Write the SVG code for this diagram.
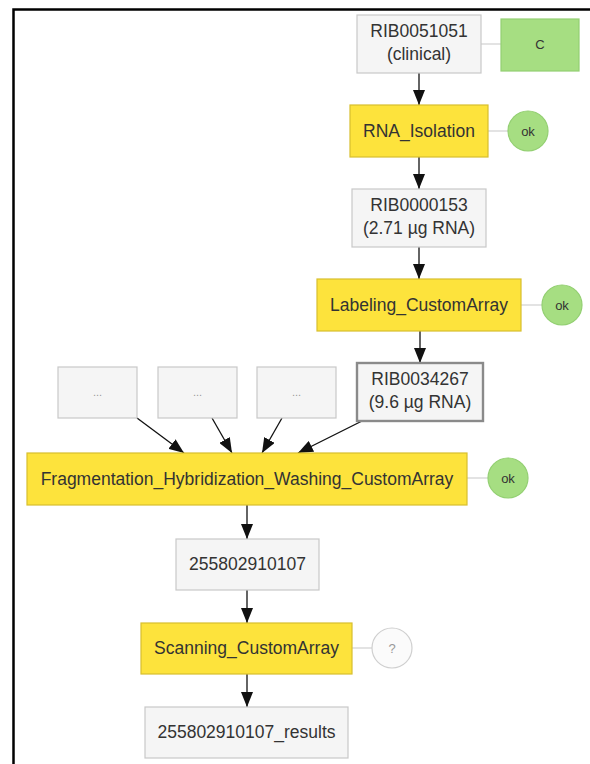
<svg xmlns="http://www.w3.org/2000/svg" width="590" height="764" viewBox="0 0 590 764">
  <style>
    .data { fill: #f5f5f5; stroke: #c8c8c8; stroke-width: 1.2; }
    .data-hl { fill: #f5f5f5; stroke: #8a8a8a; stroke-width: 2.4; }
    .proc { fill: #fde33c; stroke: #d8bf2e; stroke-width: 1.2; }
    .tag { fill: #a6de82; stroke: #93cf72; stroke-width: 1.2; }
    .unk { fill: #fbfbfb; stroke: #cfcfcf; stroke-width: 1.2; }
    .lbl { font-family: "Liberation Sans", Arial, sans-serif; font-size: 17.5px; fill: #333; text-anchor: middle; }
    .small { font-family: "Liberation Sans", Arial, sans-serif; font-size: 13px; fill: #333; text-anchor: middle; }
    .dots { font-family: "Liberation Sans", Arial, sans-serif; font-size: 11px; fill: #999; text-anchor: middle; }
    .edge { stroke: #111; stroke-width: 1.3; fill: none; marker-end: url(#arrow); }
    .link { stroke: #d0d0d0; stroke-width: 1.2; fill: none; }
  </style>
  <defs>
    <marker id="arrow" markerUnits="userSpaceOnUse" markerWidth="16" markerHeight="12" viewBox="0 0 16 12" refX="15" refY="6" orient="auto">
      <path d="M0,0 L15,6 L0,12 Z" fill="#111"/>
    </marker>
  </defs>

  <rect width="590" height="764" fill="#fff"/>
  <!-- frame -->
  <path d="M13.5,764 V9.5 H590" fill="none" stroke="#000" stroke-width="2.5"/>

  <g id="connectors">
    <line class="edge" x1="419" y1="73" x2="419" y2="105"/>
    <line class="edge" x1="419" y1="157" x2="419" y2="189"/>
    <line class="edge" x1="419" y1="247" x2="419" y2="279"/>
    <line class="edge" x1="420" y1="331" x2="420" y2="363"/>
    <line class="edge" x1="137" y1="418" x2="184" y2="453"/>
    <line class="edge" x1="212" y1="418" x2="232" y2="453"/>
    <line class="edge" x1="282" y1="418" x2="262" y2="453"/>
    <line class="edge" x1="362" y1="421" x2="298" y2="453"/>
    <line class="edge" x1="247" y1="505" x2="247" y2="539"/>
    <line class="edge" x1="247" y1="590" x2="247" y2="623"/>
    <line class="edge" x1="247" y1="674" x2="247" y2="707"/>
    <line class="link" x1="481" y1="44" x2="501" y2="44"/>
    <line class="link" x1="488" y1="131" x2="508" y2="131"/>
    <line class="link" x1="521" y1="305" x2="542" y2="305"/>
    <line class="link" x1="467" y1="478" x2="488" y2="478"/>
    <line class="link" x1="352" y1="648" x2="372" y2="648"/>
  </g>

  <g id="rib0051051">
    <rect class="data" x="357" y="15" width="124" height="58"/>
    <text class="lbl" x="419" y="37">RIB0051051</text>
    <text class="lbl" x="419" y="60">(clinical)</text>
  </g>
  <g id="tag-c">
    <rect class="tag" x="501" y="19" width="78" height="52"/>
    <text class="small" x="540" y="49">C</text>
  </g>

  <g id="rna-isolation">
    <rect class="proc" x="350" y="105" width="138" height="52"/>
    <text class="lbl" x="419" y="137">RNA_Isolation</text>
  </g>
  <g id="status-rna-isolation">
    <circle class="tag" cx="528" cy="131" r="20"/>
    <text class="small" x="528" y="135.5">ok</text>
  </g>

  <g id="rib0000153">
    <rect class="data" x="352" y="189" width="134" height="58"/>
    <text class="lbl" x="419" y="211">RIB0000153</text>
    <text class="lbl" x="419" y="234">(2.71 µg RNA)</text>
  </g>

  <g id="labeling">
    <rect class="proc" x="317" y="279" width="204" height="52"/>
    <text class="lbl" x="419" y="311">Labeling_CustomArray</text>
  </g>
  <g id="status-labeling">
    <circle class="tag" cx="562" cy="305" r="20"/>
    <text class="small" x="562" y="309.5">ok</text>
  </g>

  <g id="input-1">
    <rect class="data" x="58" y="367" width="79" height="51"/>
    <text class="dots" x="97.5" y="396">...</text>
  </g>
  <g id="input-2">
    <rect class="data" x="158" y="367" width="79" height="51"/>
    <text class="dots" x="197.5" y="396">...</text>
  </g>
  <g id="input-3">
    <rect class="data" x="257" y="367" width="79" height="51"/>
    <text class="dots" x="296.5" y="396">...</text>
  </g>
  <g id="rib0034267">
    <rect class="data-hl" x="357" y="363" width="126" height="58"/>
    <text class="lbl" x="420" y="385">RIB0034267</text>
    <text class="lbl" x="420" y="408">(9.6 µg RNA)</text>
  </g>

  <g id="hybridization">
    <rect class="proc" x="27" y="453" width="440" height="52"/>
    <text class="lbl" x="247" y="485">Fragmentation_Hybridization_Washing_CustomArray</text>
  </g>
  <g id="status-hybridization">
    <circle class="tag" cx="508" cy="478" r="20"/>
    <text class="small" x="508" y="482.5">ok</text>
  </g>

  <g id="array-255802910107">
    <rect class="data" x="176" y="539" width="143" height="51"/>
    <text class="lbl" x="247.5" y="570">255802910107</text>
  </g>

  <g id="scanning">
    <rect class="proc" x="141" y="623" width="211" height="51"/>
    <text class="lbl" x="246.5" y="654">Scanning_CustomArray</text>
  </g>
  <g id="status-scanning">
    <circle class="unk" cx="392" cy="648" r="20"/>
    <text class="small" x="392" y="652.5" style="fill:#999">?</text>
  </g>

  <g id="results">
    <rect class="data" x="145" y="707" width="203" height="51"/>
    <text class="lbl" x="246.5" y="738">255802910107_results</text>
  </g>
</svg>
